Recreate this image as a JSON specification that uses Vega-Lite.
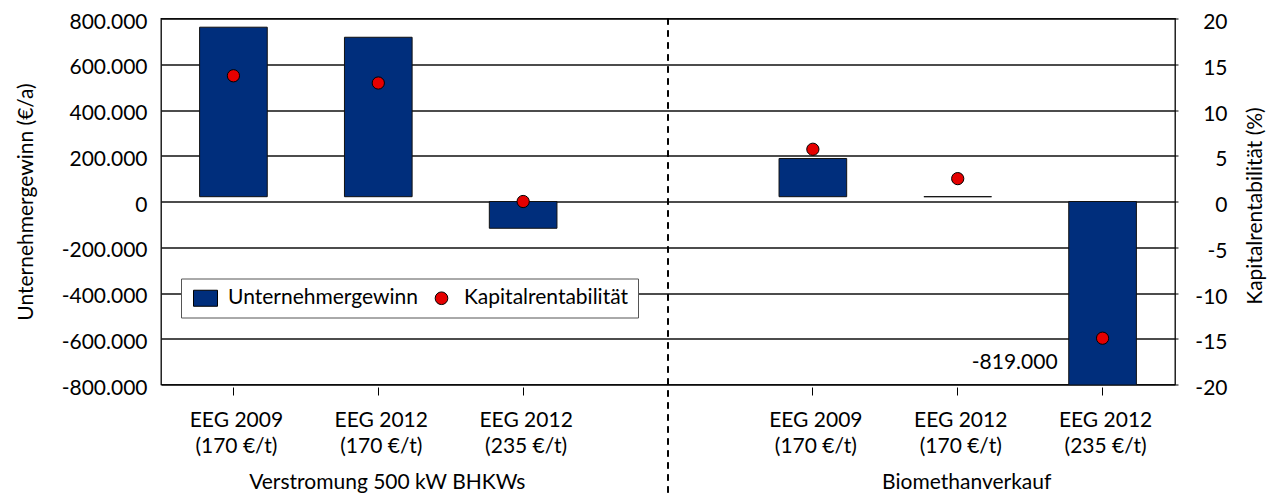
{
  "$schema": "https://vega.github.io/schema/vega-lite/v6.json",
  "width": 1014,
  "height": 366,
  "autosize": {"type": "none"},
  "padding": {"left": 161, "top": 18.5, "right": 99, "bottom": 111.5},
  "background": "white",
  "config": {
    "font": "Lato",
    "view": {"stroke": "#000", "strokeWidth": 1.3},
    "axis": {"labelFont": "Lato", "labelFontSize": 21, "labelColor": "#000", "titleFont": "Lato", "titleFontSize": 21, "titleColor": "#000", "titleFontWeight": "normal", "tickColor": "#000"},
    "legend": {"labelFont": "Lato", "labelFontSize": 21, "labelColor": "#000", "labelLimit": 0},
    "text": {"font": "Lato", "fontSize": 21, "color": "#000"},
    "locale": {"number": {"decimal": ",", "thousands": ".", "grouping": [3], "currency": ["", " €"], "minus": "-"}}
  },
  "data": {
    "values": [
      {"kat": "V|EEG 2009|(170 €/t)", "gewinn": 762000, "rendite": 13.74, "gruppe": ""},
      {"kat": "V|EEG 2012|(170 €/t)", "gewinn": 718000, "rendite": 12.95, "gruppe": "Verstromung 500 kW BHKWs"},
      {"kat": "V|EEG 2012|(235 €/t)", "gewinn": -117000, "rendite": 0.0, "gruppe": ""},
      {"kat": "B|EEG 2009|(170 €/t)", "gewinn": 188000, "rendite": 5.71, "gruppe": ""},
      {"kat": "B|EEG 2012|(170 €/t)", "gewinn": 21000, "rendite": 2.5, "gruppe": "Biomethanverkauf"},
      {"kat": "B|EEG 2012|(235 €/t)", "gewinn": -819000, "rendite": -14.94, "gruppe": ""}
    ]
  },
  "layer": [
    {
      "encoding": {
        "x": {
          "field": "kat", "type": "nominal", "title": null,
          "scale": {"domain": ["V|EEG 2009|(170 €/t)", "V|EEG 2012|(170 €/t)", "V|EEG 2012|(235 €/t)", "gap", "B|EEG 2009|(170 €/t)", "B|EEG 2012|(170 €/t)", "B|EEG 2012|(235 €/t)"], "paddingInner": 0.533, "paddingOuter": 0.2665},
          "axis": {
            "values": ["V|EEG 2009|(170 €/t)", "V|EEG 2012|(170 €/t)", "V|EEG 2012|(235 €/t)", "B|EEG 2009|(170 €/t)", "B|EEG 2012|(170 €/t)", "B|EEG 2012|(235 €/t)"],
            "labelExpr": "slice(split(datum.value, '|'), 1)",
            "labelAngle": 0, "domain": false, "grid": false, "ticks": true, "tickSize": 8, "tickWidth": 1,
            "offset": 2.5, "labelPadding": 14, "labelLineHeight": 26, "labelBaseline": "top", "labelOffset": 3
          }
        },
        "y": {
          "field": "gewinn", "type": "quantitative", "title": "Unternehmergewinn (€/a)",
          "scale": {"domain": [-800000, 800000], "nice": false, "zero": false},
          "axis": {
            "values": [-800000, -600000, -400000, -200000, 0, 200000, 400000, 600000, 800000],
            "format": ",d", "domain": false, "ticks": false, "grid": true,
            "gridColor": "#111", "gridWidth": 1.3, "labelPadding": 14, "labelOffset": 3.5,
            "titleAngle": 270, "titleX": -135, "titleY": 183, "titleBaseline": "middle"
          }
        }
      },
      "layer": [
        {
          "transform": [{"filter": "datum.gewinn > 0"}],
          "mark": {"type": "bar", "stroke": "#111", "strokeWidth": 1, "clip": true},
          "encoding": {
            "y2": {"datum": 21000},
            "color": {"datum": "Unternehmergewinn", "type": "nominal",
              "scale": {"domain": ["Unternehmergewinn", "Kapitalrentabilität"], "range": ["#002E7C", "#E50000"]},
              "legend": {
                "orient": "none", "legendX": 20, "legendY": 260, "direction": "horizontal", "title": null,
                "strokeColor": "#555", "fillColor": "white", "padding": 9, "symbolSize": 576, "labelLimit": 0,
                "symbolStrokeColor": "#000", "symbolStrokeWidth": 1, "labelOffset": 12, "columnPadding": 8, "symbolOffset": 5,
                "encode": {"symbols": {"update": {
                  "shape": {"signal": "datum.value === 'Unternehmergewinn' ? 'M-1,-0.667H1V0.667H-1Z' : 'circle'"},
                  "size": {"signal": "datum.value === 'Unternehmergewinn' ? 576 : 160"},
                  "stroke": {"value": "#000"},
                  "strokeWidth": {"value": 1}
                }}}
              }
            }
          }
        },
        {
          "transform": [{"filter": "datum.gewinn < 0"}],
          "mark": {"type": "bar", "stroke": "#111", "strokeWidth": 1, "clip": true},
          "encoding": {
            "y2": {"datum": 0},
            "color": {"datum": "Unternehmergewinn", "type": "nominal"}
          }
        },
        {
          "transform": [{"filter": "datum.gewinn < -800000"}],
          "mark": {"type": "text", "align": "right", "baseline": "middle", "dx": -45, "dy": -26, "fontSize": 21},
          "encoding": {"text": {"field": "gewinn", "format": ",d"}}
        },
        {
          "mark": {"type": "rule", "strokeDash": [6, 6], "stroke": "#000", "strokeWidth": 1},
          "encoding": {
            "x": {"datum": "gap", "type": "nominal"},
            "y": {"datum": 800000},
            "y2": {"datum": -1290000}
          }
        },
        {
          "transform": [{"filter": "datum.gruppe != ''"}],
          "mark": {"type": "text", "align": "center", "baseline": "middle", "dx": 9, "dy": 98, "fontSize": 21},
          "encoding": {
            "y": {"datum": -800000},
            "text": {"field": "gruppe", "type": "nominal"}
          }
        }
      ]
    },
    {
      "mark": {"type": "point", "filled": true, "size": 150, "stroke": "#000", "strokeWidth": 1, "opacity": 1},
      "encoding": {
        "x": {"field": "kat", "type": "nominal"},
        "y": {
          "field": "rendite", "type": "quantitative", "title": "Kapitalrentabilität (%)",
          "scale": {"domain": [-20, 20], "nice": false, "zero": false},
          "axis": {
            "orient": "right", "values": [-20, -15, -10, -5, 0, 5, 10, 15, 20], "format": "d",
            "grid": false, "domain": false, "ticks": true, "tickSize": 3,
            "labelAlign": "right", "labelPadding": 49, "labelOffset": 4,
            "titleAngle": 270, "titleX": 80, "titleY": 187, "titleBaseline": "middle"
          }
        },
        "color": {"datum": "Kapitalrentabilität", "type": "nominal"}
      }
    }
  ],
  "resolve": {"scale": {"y": "independent"}}
}
